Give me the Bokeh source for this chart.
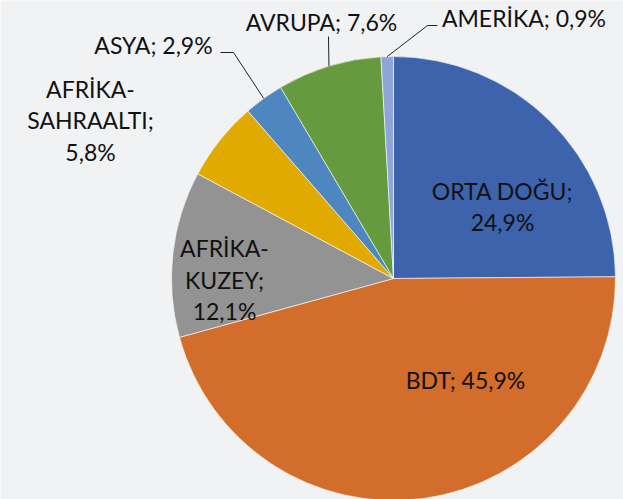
import math
from bokeh.plotting import figure
from bokeh.models import ColumnDataSource, Range1d
from bokeh.core.properties import value
from bokeh.embed import file_html
from bokeh.resources import INLINE

# ---- data ----
regions = ["ORTA DOĞU", "BDT", "AFRİKA-KUZEY", "AFRİKA-SAHRAALTI", "ASYA", "AVRUPA", "AMERİKA"]
shares = [24.9, 45.9, 12.1, 5.8, 2.9, 7.6, 0.9]
label_lines = [
    ["ORTA DOĞU;", "24,9%"],
    ["BDT; 45,9%"],
    ["AFRİKA-", "KUZEY;", "12,1%"],
    ["AFRİKA-", "SAHRAALTI;", "5,8%"],
    ["ASYA; 2,9%"],
    ["AVRUPA; 7,6%"],
    ["AMERİKA; 0,9%"],
]
colors = ["#3D63AD", "#D36D2B", "#939393", "#E1AA00", "#4E87BF", "#659A3E", "#8FA5D7"]

# ---- layout (pixel-like data space) ----
W, H = 623, 499
CX, CY, R = 393, 221, 222
FONT = "Lato"
FS = 23
LINE_SP = 31.5

# label block centres (x, y) in data space
label_pos = [(502, 293), (465, 119.5), (224, 220), (90, 379.5), (153, 454.5), (321, 478), (523.5, 481.7)]
# leader elbow points for outside labels: list of points from label toward slice
leaders = {
    4: [(220, 447), (233, 447)],
    5: [(328, 463)],
    6: [(437, 474), (427, 474)],
}

total = sum(shares)
starts, ends = [], []
cum = 0.0
for s in shares:
    a0 = math.pi / 2 - 2 * math.pi * cum / total
    cum += s
    a1 = math.pi / 2 - 2 * math.pi * cum / total
    starts.append(a1)
    ends.append(a0)

src = ColumnDataSource(dict(region=regions, share=shares, start=starts, end=ends, color=colors))

p = figure(width=W, height=H, output_backend="svg", toolbar_location=None,
           x_range=Range1d(0, W), y_range=Range1d(0, H), min_border=0)
p.axis.visible = False
p.grid.visible = False
p.outline_line_color = None
p.background_fill_color = "#F1F2F4"
p.border_fill_color = "#F1F2F4"

p.wedge(x=CX, y=CY, radius=R, start_angle="start", end_angle="end",
        fill_color="color", line_color="white", line_width=0.6, source=src)

# leader lines
for i, pts in leaders.items():
    mid = (starts[i] + ends[i]) / 2
    ex = CX + R * math.cos(mid)
    ey = CY + R * math.sin(mid)
    xs = [q[0] for q in pts] + [ex]
    ys = [q[1] for q in pts] + [ey]
    p.line(xs, ys, line_color="#222222", line_width=1)

tx, ty, tt = [], [], []
for lines, (lx, ly) in zip(label_lines, label_pos):
    n = len(lines)
    for k, t in enumerate(lines):
        tx.append(lx)
        ty.append(ly + (n - 1) / 2 * LINE_SP - k * LINE_SP)
        tt.append(t)

p.text(x=tx, y=ty, text=tt, text_font=value(FONT), text_font_size=f"{FS}px",
       text_align="center", text_baseline="middle", text_color="#111111")

open("out.html", "w").write(file_html(p, INLINE))
